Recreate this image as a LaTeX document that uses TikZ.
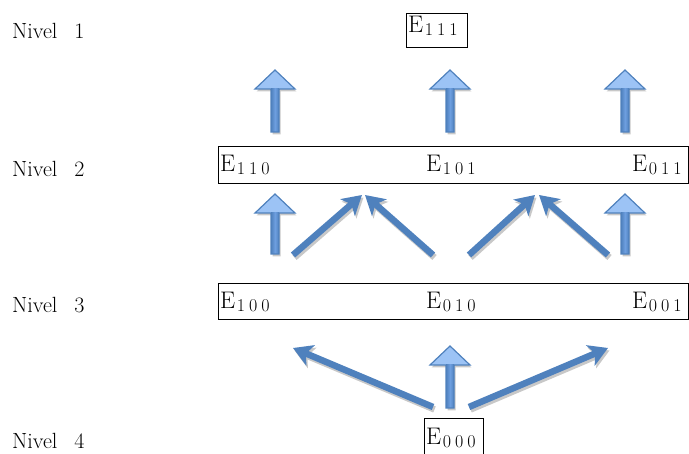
\documentclass[tikz,border=0pt]{standalone}
\usetikzlibrary{arrows.meta}
\definecolor{ablue}{HTML}{4F81BD}
\definecolor{alight}{HTML}{9CC3F5}
\definecolor{amid}{HTML}{6E9FE0}
\definecolor{ashadow}{HTML}{C8C8C8}
\newcommand\Esub[3]{E\kern1.5pt\raisebox{-2.5pt}{\fontsize{18}{18}\selectfont #1\kern4pt#2\kern4pt#3}}
\tikzset{
  etext/.style={font=\fontsize{24}{27}\selectfont, inner sep=0pt, anchor=base west},
  nivel/.style={font=\fontsize{22}{26}\selectfont, inner sep=0pt, anchor=base west},
  ebox/.style={draw=black, line width=0.9pt, inner sep=0pt, anchor=north west},
  diag/.style={draw=ablue, line width=6.5pt, -{Stealth[length=19pt,width=22pt,inset=5pt]}},
  diagshadow/.style={draw=ashadow, line width=6.5pt, -{Stealth[length=19pt,width=22pt,inset=5pt]},
    transform canvas={shift={(1.5pt,-2.5pt)}}},
  pics/uparrow/.style={code={
    \fill[ashadow, shift={(1.5,2.5)}] (0,0) -- (-20,19) -- (-4,19) -- (-4,#1) -- (4,#1) -- (4,19) -- (20,19) -- cycle;
    \fill[alight] (0,0) -- (-20,19) -- (20,19) -- cycle;
    \shade[left color=ablue, right color=ablue, middle color=amid] (-4,19) rectangle (4,#1);
    \draw[ablue, line width=1.2pt, line join=miter] (0,0) -- (-20,19) -- (-4,19) -- (-4,#1) -- (4,#1) -- (4,19) -- (20,19) -- cycle;
  }}
}
\begin{document}
\begin{tikzpicture}[x=1pt, y=-1pt]
\useasboundingbox (0,0) rectangle (689,454);
% level labels
\node[nivel] (n1) at (12,39) {Nivel\hspace{17pt}1};
\node[nivel] (n2) at (12,177) {Nivel\hspace{17pt}2};
\node[nivel] (n3) at (12,313) {Nivel\hspace{17pt}3};
\node[nivel] (n4) at (12,449) {Nivel\hspace{17pt}4};
% boxes
\node[ebox, minimum width=61pt, minimum height=34pt] (b1) at (406,13) {};
\node[ebox, minimum width=470pt, minimum height=37pt] (b2) at (218,146) {};
\node[ebox, minimum width=470pt, minimum height=36pt] (b3) at (218,283) {};
\node[ebox, minimum width=59pt, minimum height=40pt] (b4) at (424,418) {};
% texts
\node[etext] (e111) at (408,33) {\Esub111};
\node[etext] (e110) at (220,172) {\Esub110};
\node[etext] (e101) at (426,172) {\Esub101};
\node[etext] (e011) at (632,172) {\Esub011};
\node[etext] (e100) at (220,309) {\Esub100};
\node[etext] (e010) at (426,309) {\Esub010};
\node[etext] (e001) at (632,309) {\Esub001};
\node[etext] (e000) at (426,445) {\Esub000};
% block up arrows
\pic at (275,70) {uparrow=62};
\pic at (450,70) {uparrow=62};
\pic at (625,70) {uparrow=62};
\pic at (275,194) {uparrow=60};
\pic at (625,194) {uparrow=60};
\pic at (450,346) {uparrow=62};
% diagonal arrow end points
\coordinate (d1s) at (293,255); \coordinate (d1e) at (362,195);
\coordinate (d2s) at (433,255); \coordinate (d2e) at (365,195);
\coordinate (d3s) at (469,255); \coordinate (d3e) at (535,195);
\coordinate (d4s) at (608,255); \coordinate (d4e) at (539,195);
\coordinate (d5s) at (433,407); \coordinate (d5e) at (293,348);
\coordinate (d6s) at (469,407); \coordinate (d6e) at (608,348);
\foreach \a/\b in {d1s/d1e,d2s/d2e,d3s/d3e,d4s/d4e,d5s/d5e,d6s/d6e}{
  \draw[diagshadow] (\a) -- (\b);
}
\foreach \a/\b in {d1s/d1e,d2s/d2e,d3s/d3e,d4s/d4e,d5s/d5e,d6s/d6e}{
  \draw[diag] (\a) -- (\b);
}
\end{tikzpicture}
\end{document}
